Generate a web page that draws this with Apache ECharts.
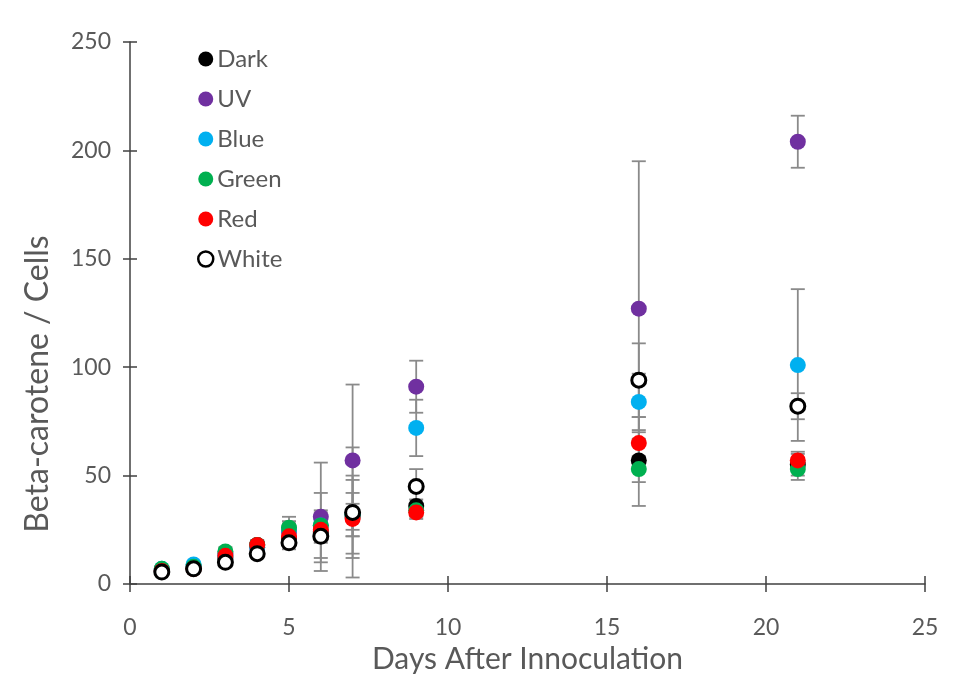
<!DOCTYPE html>
<html><head><meta charset="utf-8">
<script src="https://cdn.jsdelivr.net/npm/echarts@6/dist/echarts.min.js"></script>
<style>html,body{margin:0;padding:0;background:#fff}#c{width:959px;height:679px}</style>
</head><body><div id="c"></div>
<script>
const days = [1, 2, 3, 4, 5, 6, 7, 9, 16, 21];
const seriesNames = ['Dark', 'UV', 'Blue', 'Green', 'Red', 'White'];
const dark  = [6, 7, 12, 18, 21, 24, 31, 36, 57, 55];
const uv    = [6, 8, 14, 17, 24, 31, 57, 91, 127, 204];
const blue  = [7, 9, 13, 17, 25, 27, 32, 72, 84, 101];
const green = [7, 8, 15, 18, 26, 27, 32, 34, 53, 53];
const red   = [6, 7, 13, 18, 22, 25, 30, 33, 65, 57];
const white = [5.5, 7, 10, 14, 19, 22, 33, 45, 94, 82];
const darkErr  = [1, 1, 2, 2, 3, 5, 6, 3, 10, 5];
const uvErr    = [1, 1, 2, 2, 4, 25, 35, 12, 68, 12];
const blueErr  = [1, 1, 2, 2, 4, 15, 18, 13, 13, 35];
const greenErr = [1, 1, 2, 2, 5, 6, 10, 3, 17, 5];
const redErr   = [1, 1, 2, 2, 4, 5, 18, 3, 12, 4];
const whiteErr = [1, 1, 2, 2, 3, 12, 30, 8, 17, 6];
const xTicks = [0, 5, 10, 15, 20, 25];
const yTicks = [0, 50, 100, 150, 200, 250];

const values = [dark, uv, blue, green, red, white];
const errs = [darkErr, uvErr, blueErr, greenErr, redErr, whiteErr];
const colors = ['#000000', '#7030a0', '#00b0f0', '#00b050', '#ff0000', '#ffffff'];

const font = 'Lato, "Open Sans", sans-serif';
const axisColor = '#404040';
const textColor = '#595959';

const errData = [];
values.forEach((vals, s) => {
  vals.forEach((v, i) => errData.push([days[i], v - errs[s][i], v + errs[s][i]]));
});

const series = [{
  type: 'custom',
  name: 'err',
  silent: true,
  z: 1,
  renderItem: function (params, api) {
    const x = api.value(0);
    const lo = api.coord([x, api.value(1)]);
    const hi = api.coord([x, api.value(2)]);
    const w = 7;
    const st = { stroke: '#8a8a8a', lineWidth: 1.8 };
    return {
      type: 'group',
      children: [
        { type: 'line', shape: { x1: lo[0], y1: lo[1], x2: hi[0], y2: hi[1] }, style: st },
        { type: 'line', shape: { x1: lo[0] - w, y1: lo[1], x2: lo[0] + w, y2: lo[1] }, style: st },
        { type: 'line', shape: { x1: hi[0] - w, y1: hi[1], x2: hi[0] + w, y2: hi[1] }, style: st }
      ]
    };
  },
  encode: { x: 0, y: [1, 2] },
  data: errData
}];

seriesNames.forEach((name, s) => {
  const isWhite = name === 'White';
  series.push({
    type: 'scatter',
    name: name,
    z: 2 + s,
    symbol: 'circle',
    symbolSize: isWhite ? 14 : 16,
    itemStyle: isWhite
      ? { color: '#ffffff', borderColor: '#000000', borderWidth: 3, opacity: 1 }
      : { color: colors[s], opacity: 1 },
    data: values[s].map((v, i) => [days[i], v])
  });
});

const chart = echarts.init(document.getElementById('c'));
chart.setOption({
  backgroundColor: '#ffffff',
  animation: false,
  legend: {
    orient: 'vertical',
    left: 192,
    top: 42,
    itemGap: 16,
    itemWidth: 15,
    itemHeight: 15,
    data: seriesNames.map((n) => n === 'White'
      ? { name: n, icon: 'circle', itemStyle: { color: '#fff', borderColor: '#000', borderWidth: 2.5, opacity: 1 } }
      : { name: n, icon: 'circle', itemStyle: { opacity: 1 } }),
    textStyle: { color: textColor, fontSize: 24, fontFamily: font, padding: [0, 0, 0, -1] }
  },
  grid: { left: 130, right: 34, top: 42, bottom: 93 },
  xAxis: [{
    type: 'value', min: 0, max: 25, interval: 5,
    name: 'Days After Innoculation', nameLocation: 'middle', nameGap: 60,
    nameTextStyle: { color: textColor, fontSize: 30, fontFamily: font },
    axisLine: { show: true, lineStyle: { color: axisColor, width: 1.5 } },
    axisTick: { show: true, length: 8, lineStyle: { color: axisColor, width: 1.5 } },
    axisLabel: { color: textColor, fontSize: 23, fontFamily: font, margin: 32,
      formatter: (v) => xTicks.includes(v) ? String(v) : '' },
    splitLine: { show: false }
  }, {
    type: 'value', min: 0, max: 25, interval: 5, position: 'bottom',
    axisLine: { show: false },
    axisTick: { show: true, inside: true, length: 8, lineStyle: { color: axisColor, width: 1.5 } },
    axisLabel: { show: false }, splitLine: { show: false }
  }],
  yAxis: [{
    type: 'value', min: 0, max: 250, interval: 50,
    name: 'Beta-carotene / Cells', nameLocation: 'middle', nameGap: 76,
    nameTextStyle: { color: textColor, fontSize: 32, fontFamily: font, padding: [0, 142, 0, 0] },
    axisLine: { show: true, lineStyle: { color: axisColor, width: 1.5 } },
    axisTick: { show: true, length: 7, lineStyle: { color: axisColor, width: 1.5 } },
    axisLabel: { color: textColor, fontSize: 23, fontFamily: font, margin: 19,
      formatter: (v) => yTicks.includes(v) ? String(v) : '' },
    splitLine: { show: false }
  }, {
    type: 'value', min: 0, max: 250, interval: 50, position: 'left',
    axisLine: { show: false },
    axisTick: { show: true, inside: true, length: 7, lineStyle: { color: axisColor, width: 1.5 } },
    axisLabel: { show: false }, splitLine: { show: false }
  }],
  series: series
});
</script></body></html>
